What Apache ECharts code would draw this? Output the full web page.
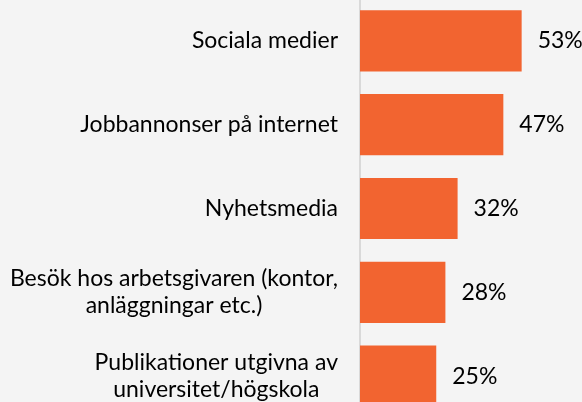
<!DOCTYPE html>
<html>
<head>
<meta charset="utf-8">
<style>
  html, body { margin: 0; padding: 0; background: #f4f4f4; }
  #chart { width: 582px; height: 402px; }
</style>
<script src="https://cdn.jsdelivr.net/npm/echarts@6/dist/echarts.min.js"></script>
</head>
<body>
<div id="chart"></div>
<script>
// Information channels, top to bottom
const categories = [
  'Sociala medier',
  'Jobbannonser på internet',
  'Nyhetsmedia',
  'Besök hos arbetsgivaren (kontor,\nanläggningar etc.)',
  'Publikationer utgivna av\nuniversitet/högskola'
];
// Share of respondents, percent
const shares = [53, 47, 32, 28, 25];

const FONT = 'Lato, "Noto Sans", sans-serif';

const chart = echarts.init(document.getElementById('chart'), null, { renderer: 'canvas' });

chart.setOption({
  backgroundColor: '#f4f4f4',
  animation: false,
  // plot area runs a little past the bottom edge of the canvas
  grid: {
    left: 360, width: 183, top: -1, height: 419,
    containLabel: false,
    outerBoundsMode: 'none'
  },
  xAxis: {
    type: 'value',
    min: 0,
    max: 60,
    show: false
  },
  yAxis: {
    type: 'category',
    inverse: true,
    data: categories,
    axisLine: { show: true, lineStyle: { color: '#d9d9d9', width: 2 } },
    axisTick: { show: false },
    splitLine: { show: false },
    axisLabel: {
      margin: 22,
      color: '#000',
      fontFamily: FONT,
      fontSize: 23,
      lineHeight: 27,
      // each line centred within its label block
      formatter: function (v) {
        return v.split('\n').map(function (s) { return '{c|' + s + '}'; }).join('\n');
      },
      rich: {
        c: { align: 'center', color: '#000', fontFamily: FONT, fontSize: 23, lineHeight: 27 }
      }
    }
  },
  series: [{
    type: 'bar',
    data: shares,
    barCategoryGap: '27%',
    itemStyle: { color: '#f26430' },
    label: {
      show: true,
      position: 'right',
      distance: 16,
      color: '#000',
      fontFamily: FONT,
      fontSize: 23,
      formatter: '{c}%'
    }
  }]
});
</script>
</body>
</html>
